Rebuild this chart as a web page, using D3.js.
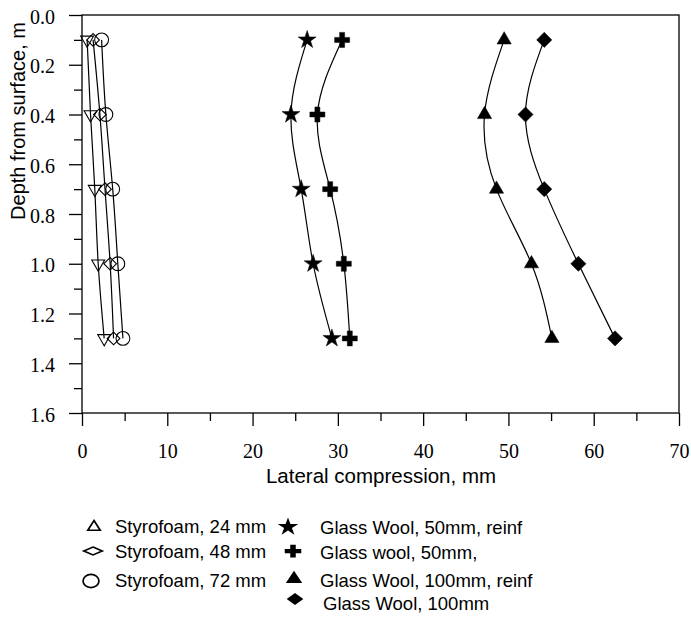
<!DOCTYPE html>
<html>
<head>
<meta charset="utf-8">
<script src="https://cdn.jsdelivr.net/npm/d3@7"></script>
<style>
  body { margin: 0; background: #fff; }
  svg { display: block; }
</style>
</head>
<body>
<div id="chart"></div>
<script>
// depth of each reading, m
const depths = [0.1, 0.4, 0.7, 1.0, 1.3];

// lateral compression, mm
const styro24 = [0.6, 1.0, 1.5, 1.9, 2.6];
const styro48 = [1.3, 2.1, 2.7, 3.3, 3.7];
const styro72 = [2.3, 2.8, 3.6, 4.2, 4.8];
const gw50reinf = [26.4, 24.5, 25.7, 27.1, 29.3];
const gw50 = [30.5, 27.6, 29.1, 30.7, 31.4];
const gw100reinf = [49.5, 47.2, 48.6, 52.7, 55.1];
const gw100 = [54.2, 52.0, 54.2, 58.2, 62.5];

const xTicks = [0, 10, 20, 30, 40, 50, 60, 70];
const yTicks = [0.0, 0.2, 0.4, 0.6, 0.8, 1.0, 1.2, 1.4, 1.6];

const legendLeft = ["Styrofoam, 24 mm", "Styrofoam, 48 mm", "Styrofoam, 72 mm"];
const legendRight = ["Glass Wool, 50mm, reinf", "Glass wool, 50mm,", "Glass Wool, 100mm, reinf", "Glass Wool, 100mm"];

const series = [
  { name: legendLeft[0], values: styro24, shape: "triDown", open: true },
  { name: legendLeft[1], values: styro48, shape: "diamond", open: true },
  { name: legendLeft[2], values: styro72, shape: "circle", open: true },
  { name: legendRight[0], values: gw50reinf, shape: "star", open: false },
  { name: legendRight[1], values: gw50, shape: "cross", open: false },
  { name: legendRight[2], values: gw100reinf, shape: "triangle", open: false },
  { name: legendRight[3], values: gw100, shape: "diamond", open: false }
];

const serif = "'Liberation Serif', 'Times New Roman', serif";
const sans = "'Liberation Sans', Arial, sans-serif";

const W = 691, H = 618;
const margin = { top: 15, right: 12, bottom: 205, left: 82 };
const width = W - margin.left - margin.right,
      height = H - margin.top - margin.bottom;

const svg = d3.select("#chart").append("svg")
  .attr("width", W).attr("height", H);

const g = svg.append("g")
  .attr("transform", `translate(${margin.left},${margin.top})`);

const x = d3.scaleLinear().domain([0, 70]).range([0, width]);
const y = d3.scaleLinear().domain([0, 1.6]).range([0, height]);

// marker shapes
function symbolPath(shape, open) {
  let type, size;
  if (shape === "star") { type = d3.symbolStar; size = 100; }
  else if (shape === "cross") { type = d3.symbolCross; size = 125; }
  else if (shape === "triangle") { type = d3.symbolTriangle; size = open ? 55 : 88; }
  else if (shape === "triDown") { type = d3.symbolTriangle; size = 72; }
  else if (shape === "diamond") { type = d3.symbolSquare; size = open ? 80 : 115; }
  else { type = d3.symbolCircle; size = 150; }
  return d3.symbol().type(type).size(size)();
}
function symbolRotate(shape) {
  if (shape === "triDown") return 180;
  if (shape === "diamond") return 45;
  return 0;
}

// minor ticks
g.append("g")
  .attr("transform", `translate(0,${height})`)
  .call(d3.axisBottom(x).tickValues(d3.range(5, 70, 10)).tickSize(8).tickFormat(""))
  .call(a => a.select(".domain").remove());
g.append("g")
  .call(d3.axisLeft(y).tickValues(d3.range(0.1, 1.6, 0.2)).tickSize(8).tickFormat(""))
  .call(a => a.select(".domain").remove());

// major ticks
const xAxis = g.append("g")
  .attr("transform", `translate(0,${height})`)
  .call(d3.axisBottom(x).tickValues(xTicks).tickSize(13).tickFormat(d3.format("d")))
  .call(a => a.select(".domain").remove());
xAxis.selectAll(".tick text").attr("y", 45).attr("dy", null);

const yAxis = g.append("g")
  .call(d3.axisLeft(y).tickValues(yTicks).tickSize(13).tickPadding(14).tickFormat(d3.format(".1f")))
  .call(a => a.select(".domain").remove());
yAxis.selectAll(".tick text").attr("dy", "0.4em");

g.selectAll(".tick line").attr("stroke", "#000").attr("stroke-width", 1.3);
g.selectAll(".tick text")
  .attr("fill", "#000")
  .attr("font-family", serif)
  .attr("font-size", 20);

// frame
g.append("rect")
  .attr("width", width).attr("height", height)
  .attr("fill", "none").attr("stroke", "#000").attr("stroke-width", 1.3);

const line = d3.line()
  .x(d => x(d[0]))
  .y(d => y(d[1]))
  .curve(d3.curveNatural);

series.forEach(s => {
  const pts = s.values.map((v, i) => [v, depths[i]]);
  g.append("path")
    .datum(pts)
    .attr("d", line)
    .attr("fill", "none")
    .attr("stroke", "#000")
    .attr("stroke-width", 1.2);

  g.selectAll(null)
    .data(pts)
    .join("path")
    .attr("d", symbolPath(s.shape, s.open))
    .attr("transform", d => `translate(${x(d[0])},${y(d[1])}) rotate(${symbolRotate(s.shape)})`)
    .attr("fill", s.open ? "none" : "#000")
    .attr("stroke", "#000")
    .attr("stroke-width", s.open ? 1.1 : 0.5);
});

// axis titles
svg.append("text")
  .attr("x", 381)
  .attr("y", 483)
  .attr("text-anchor", "middle")
  .attr("font-family", sans).attr("font-size", 20.5)
  .text("Lateral compression, mm");

svg.append("text")
  .attr("transform", "translate(25,121) rotate(-90)")
  .attr("text-anchor", "middle")
  .attr("font-family", sans).attr("font-size", 20)
  .text("Depth from surface, m");

// legend
const legend = svg.append("g")
  .attr("font-family", sans).attr("font-size", 18.5);

const leftShapes = ["triangle", "diamond", "circle"];
const leftSymY = [527, 551, 581];
const leftSymX = [94, 93, 91];
const leftBase = [533, 558, 587];
legendLeft.forEach((name, i) => {
  const sh = leftShapes[i];
  legend.append("path")
    .attr("d", symbolPath(sh, true))
    .attr("transform", `translate(${leftSymX[i]},${leftSymY[i]}) ` +
      (sh === "diamond" ? "scale(1.45,0.62) rotate(45)" : sh === "circle" ? "scale(1.15,0.95)" : "scale(1.1,1)"))
    .attr("fill", "none").attr("stroke", "#000")
    .attr("stroke-width", 1.7)
    .attr("vector-effect", "non-scaling-stroke");
  legend.append("text")
    .attr("x", 115).attr("y", leftBase[i])
    .text(name);
});

const rightShapes = ["star", "cross", "triangle", "diamond"];
const rightSymY = [527, 551, 579, 599];
const rightSymX = [288, 293, 294, 295];
const rightBase = [534, 559, 587, 610];
const rightText = [320, 320, 320, 323];
legendRight.forEach((name, i) => {
  const sh = rightShapes[i];
  legend.append("path")
    .attr("d", symbolPath(sh, false))
    .attr("transform", `translate(${rightSymX[i]},${rightSymY[i]}) ` +
      (sh === "diamond" ? "scale(1.1,0.8) rotate(45)" : sh === "cross" ? "scale(1.1,0.85)" : "scale(1.15,1)"))
    .attr("fill", "#000");
  legend.append("text")
    .attr("x", rightText[i]).attr("y", rightBase[i])
    .text(name);
});
</script>
</body>
</html>
